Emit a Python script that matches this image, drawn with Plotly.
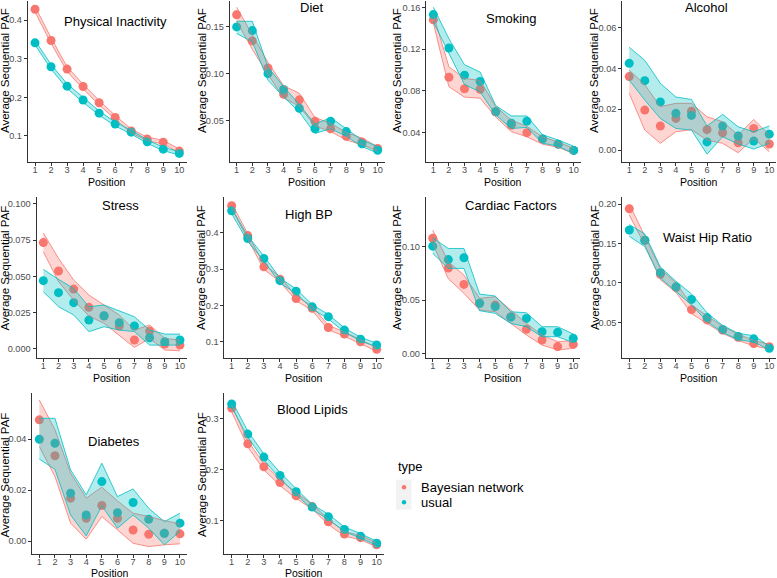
import plotly.graph_objects as go

# ---------------- data ----------------
positions = [1, 2, 3, 4, 5, 6, 7, 8, 9, 10]
panel_names = ["Physical Inactivity", "Diet", "Smoking", "Alcohol", "Stress",
               "High BP", "Cardiac Factors", "Waist Hip Ratio", "Diabetes", "Blood Lipids"]
series_names = ["Bayesian network", "usual"]

# Physical Inactivity
pi_bn = [0.428, 0.347, 0.273, 0.228, 0.186, 0.148, 0.113, 0.092, 0.084, 0.061]
pi_bn_lo = [0.421, 0.340, 0.267, 0.222, 0.180, 0.143, 0.108, 0.088, 0.079, 0.057]
pi_bn_hi = [0.435, 0.354, 0.279, 0.234, 0.192, 0.153, 0.118, 0.097, 0.089, 0.066]
pi_us = [0.341, 0.279, 0.229, 0.193, 0.159, 0.131, 0.110, 0.085, 0.066, 0.055]
pi_us_lo = [0.336, 0.273, 0.223, 0.187, 0.154, 0.126, 0.105, 0.081, 0.062, 0.051]
pi_us_hi = [0.347, 0.285, 0.235, 0.199, 0.165, 0.136, 0.115, 0.090, 0.071, 0.059]

# Diet
di_bn = [0.163, 0.135, 0.106, 0.078, 0.072, 0.049, 0.041, 0.033, 0.027, 0.020]
di_bn_lo = [0.156, 0.126, 0.099, 0.074, 0.065, 0.044, 0.038, 0.029, 0.024, 0.017]
di_bn_hi = [0.171, 0.142, 0.112, 0.087, 0.079, 0.053, 0.047, 0.037, 0.031, 0.022]
di_us = [0.150, 0.146, 0.100, 0.083, 0.063, 0.041, 0.049, 0.038, 0.025, 0.018]
di_us_lo = [0.143, 0.134, 0.093, 0.075, 0.059, 0.036, 0.041, 0.033, 0.022, 0.015]
di_us_hi = [0.156, 0.156, 0.107, 0.086, 0.067, 0.046, 0.053, 0.041, 0.029, 0.022]

# Smoking
sm_bn = [0.148, 0.093, 0.082, 0.0815, 0.060, 0.047, 0.040, 0.034, 0.029, 0.023]
sm_bn_lo = [0.145, 0.084, 0.074, 0.073, 0.055, 0.041, 0.036, 0.029, 0.026, 0.020]
sm_bn_hi = [0.153, 0.103, 0.092, 0.090, 0.065, 0.052, 0.046, 0.036, 0.031, 0.025]
sm_us = [0.153, 0.121, 0.095, 0.089, 0.060, 0.049, 0.051, 0.034, 0.029, 0.023]
sm_us_lo = [0.146, 0.116, 0.086, 0.079, 0.057, 0.044, 0.045, 0.030, 0.027, 0.020]
sm_us_hi = [0.160, 0.130, 0.105, 0.098, 0.066, 0.056, 0.056, 0.038, 0.033, 0.027]

# Alcohol
al_bn = [0.036, 0.0196, 0.0118, 0.0155, 0.019, 0.010, 0.0085, 0.0036, 0.0106, 0.003]
al_bn_lo = [0.0278, 0.0098, 0.0033, 0.009, 0.010, 0.0049, 0.0033, -0.0013, 0.0057, -0.0008]
al_bn_hi = [0.0392, 0.032, 0.0213, 0.0229, 0.0229, 0.0163, 0.0139, 0.0074, 0.015, 0.0074]
al_us = [0.0425, 0.034, 0.0236, 0.018, 0.017, 0.004, 0.0118, 0.0069, 0.0044, 0.0078]
al_us_lo = [0.0343, 0.0245, 0.0155, 0.0106, 0.0098, -0.002, 0.0065, 0.003, 0.0005, 0.0033]
al_us_hi = [0.0504, 0.044, 0.0327, 0.026, 0.0248, 0.0118, 0.0175, 0.0114, 0.009, 0.0118]

# Stress
st_bn = [0.0733, 0.0537, 0.0412, 0.0286, 0.0226, 0.0157, 0.006, 0.0122, 0.0032, 0.0025]
st_bn_lo = [0.067, 0.0463, 0.0336, 0.0226, 0.0175, 0.0094, 0.0009, 0.0071, -0.0009, -0.0014]
st_bn_hi = [0.080, 0.0624, 0.0475, 0.0371, 0.0302, 0.0233, 0.0129, 0.0164, 0.0071, 0.006]
st_us = [0.047, 0.0387, 0.0318, 0.0198, 0.0228, 0.018, 0.0157, 0.0076, 0.0048, 0.006]
st_us_lo = [0.0394, 0.029, 0.0233, 0.0118, 0.0152, 0.0129, 0.0118, 0.0025, 0.0025, 0.0025]
st_us_hi = [0.0548, 0.0479, 0.0417, 0.029, 0.0302, 0.0263, 0.0221, 0.0129, 0.0101, 0.0101]

# High BP
hb_bn = [0.474, 0.392, 0.306, 0.272, 0.219, 0.192, 0.139, 0.121, 0.100, 0.079]
hb_bn_lo = [0.466, 0.384, 0.299, 0.265, 0.213, 0.186, 0.133, 0.115, 0.095, 0.074]
hb_bn_hi = [0.481, 0.399, 0.313, 0.279, 0.225, 0.198, 0.145, 0.127, 0.105, 0.084]
hb_us = [0.460, 0.384, 0.329, 0.268, 0.239, 0.196, 0.169, 0.132, 0.107, 0.091]
hb_us_lo = [0.452, 0.376, 0.322, 0.261, 0.233, 0.190, 0.163, 0.126, 0.102, 0.086]
hb_us_hi = [0.467, 0.391, 0.336, 0.275, 0.245, 0.202, 0.175, 0.138, 0.112, 0.096]

# Cardiac Factors
cf_bn = [0.108, 0.080, 0.0647, 0.0469, 0.0453, 0.0344, 0.0225, 0.0125, 0.0063, 0.0084]
cf_bn_lo = [0.1031, 0.070, 0.0563, 0.0406, 0.039, 0.0281, 0.0172, 0.0078, 0.0031, 0.0047]
cf_bn_hi = [0.1156, 0.086, 0.0734, 0.0516, 0.0531, 0.0406, 0.0281, 0.0172, 0.0109, 0.0119]
cf_us = [0.1006, 0.088, 0.0897, 0.0469, 0.0438, 0.0338, 0.0328, 0.0203, 0.0197, 0.0141]
cf_us_lo = [0.0938, 0.0797, 0.0797, 0.040, 0.0375, 0.0281, 0.025, 0.0156, 0.0156, 0.010]
cf_us_hi = [0.1084, 0.0984, 0.0984, 0.0556, 0.0538, 0.039, 0.0381, 0.025, 0.025, 0.0181]

# Waist Hip Ratio
wh_bn = [0.194, 0.154, 0.111, 0.094, 0.066, 0.053, 0.040, 0.031, 0.023, 0.019]
wh_bn_lo = [0.186, 0.148, 0.104, 0.088, 0.061, 0.048, 0.036, 0.027, 0.020, 0.016]
wh_bn_hi = [0.200, 0.160, 0.118, 0.100, 0.072, 0.058, 0.045, 0.035, 0.027, 0.022]
wh_us = [0.167, 0.154, 0.113, 0.095, 0.079, 0.056, 0.041, 0.032, 0.029, 0.017]
wh_us_lo = [0.159, 0.146, 0.106, 0.089, 0.072, 0.051, 0.037, 0.028, 0.025, 0.015]
wh_us_hi = [0.174, 0.162, 0.120, 0.102, 0.086, 0.062, 0.046, 0.036, 0.033, 0.020]

# Diabetes
db_bn = [0.0476, 0.0335, 0.0169, 0.009, 0.014, 0.009, 0.0044, 0.0027, 0.0031, 0.0029]
db_bn_lo = [0.0371, 0.0254, 0.0071, 0.0008, 0.0097, 0.0044, -0.0008, -0.0021, -0.0014, -0.001]
db_bn_hi = [0.0554, 0.0437, 0.0267, 0.0169, 0.0212, 0.0158, 0.011, 0.0097, 0.0081, 0.0068]
db_us = [0.040, 0.0384, 0.0188, 0.0103, 0.0234, 0.0112, 0.0152, 0.0086, 0.0031, 0.0071]
db_us_lo = [0.0322, 0.0282, 0.0103, 0.0021, 0.0139, 0.0051, 0.0103, 0.0051, -0.0014, 0.0038]
db_us_hi = [0.0482, 0.0482, 0.028, 0.0182, 0.0306, 0.0175, 0.0205, 0.0129, 0.0077, 0.011]

# Blood Lipids
bl_bn = [0.320, 0.250, 0.205, 0.174, 0.148, 0.127, 0.097, 0.073, 0.066, 0.052]
bl_bn_lo = [0.313, 0.244, 0.199, 0.168, 0.143, 0.122, 0.092, 0.069, 0.062, 0.048]
bl_bn_hi = [0.326, 0.256, 0.211, 0.180, 0.154, 0.132, 0.102, 0.078, 0.070, 0.056]
bl_us = [0.328, 0.269, 0.224, 0.188, 0.156, 0.126, 0.107, 0.082, 0.069, 0.055]
bl_us_lo = [0.322, 0.263, 0.218, 0.182, 0.151, 0.121, 0.102, 0.078, 0.065, 0.051]
bl_us_hi = [0.335, 0.275, 0.230, 0.194, 0.162, 0.131, 0.112, 0.087, 0.074, 0.059]

# y-axis ticks per panel
yticks = [
    [0.1, 0.2, 0.3, 0.4],
    [0.05, 0.10, 0.15],
    [0.04, 0.08, 0.12, 0.16],
    [0.00, 0.02, 0.04, 0.06],
    [0.000, 0.025, 0.050, 0.075, 0.100],
    [0.1, 0.2, 0.3, 0.4],
    [0.00, 0.05, 0.10],
    [0.05, 0.10, 0.15, 0.20],
    [0.00, 0.02, 0.04],
    [0.1, 0.2, 0.3],
]
ytick_labels = [
    ["0.1", "0.2", "0.3", "0.4"],
    ["0.05", "0.10", "0.15"],
    ["0.04", "0.08", "0.12", "0.16"],
    ["0.00", "0.02", "0.04", "0.06"],
    ["0.000", "0.025", "0.050", "0.075", "0.100"],
    ["0.1", "0.2", "0.3", "0.4"],
    ["0.00", "0.05", "0.10"],
    ["0.05", "0.10", "0.15", "0.20"],
    ["0.00", "0.02", "0.04"],
    ["0.1", "0.2", "0.3"],
]

series_data = [
    (pi_bn, pi_bn_lo, pi_bn_hi, pi_us, pi_us_lo, pi_us_hi),
    (di_bn, di_bn_lo, di_bn_hi, di_us, di_us_lo, di_us_hi),
    (sm_bn, sm_bn_lo, sm_bn_hi, sm_us, sm_us_lo, sm_us_hi),
    (al_bn, al_bn_lo, al_bn_hi, al_us, al_us_lo, al_us_hi),
    (st_bn, st_bn_lo, st_bn_hi, st_us, st_us_lo, st_us_hi),
    (hb_bn, hb_bn_lo, hb_bn_hi, hb_us, hb_us_lo, hb_us_hi),
    (cf_bn, cf_bn_lo, cf_bn_hi, cf_us, cf_us_lo, cf_us_hi),
    (wh_bn, wh_bn_lo, wh_bn_hi, wh_us, wh_us_lo, wh_us_hi),
    (db_bn, db_bn_lo, db_bn_hi, db_us, db_us_lo, db_us_hi),
    (bl_bn, bl_bn_lo, bl_bn_hi, bl_us, bl_us_lo, bl_us_hi),
]

# ---------------- layout (pixel geometry) ----------------
W, H = 777, 578
RED = "#F8766D"
TEAL = "#00BFC4"
RED_FILL = "rgba(248,118,109,0.30)"
TEAL_FILL = "rgba(0,191,196,0.30)"
FONT = "Liberation Sans, Arial, Helvetica, sans-serif"

# panel boxes: left, right, top, bottom (px)
boxes = [
    (27.8, 186.5, 0.7, 161.7), (229.6, 384.7, 0.7, 161.7),
    (426.3, 580.7, 0.7, 161.7), (622.2, 776.3, 0.7, 161.7),
    (36.5, 186.8, 196.7, 357.7), (224.4, 383.9, 196.7, 357.7),
    (425.7, 580.3, 196.7, 357.7), (622.3, 776.3, 196.7, 357.7),
    (32.3, 187.0, 393.3, 554.0), (224.4, 383.9, 393.3, 554.0),
]
yranges = [
    (0.0335, 0.450), (0.0058, 0.178), (0.0122, 0.1663), (-0.0057, 0.0732),
    (-0.0062, 0.105), (0.056, 0.499), (-0.0041, 0.147), (0.0051, 0.2093),
    (-0.005, 0.058), (0.034, 0.349),
]
# panel title centres (data coords)
title_pos = [
    (6.0, 0.397), (5.8, 0.171), (6.0, 0.149), (5.95, 0.0697), (6.05, 0.099),
    (5.8, 0.449), (6.0, 0.139), (6.05, 0.158), (5.75, 0.0393), (6.0, 0.318),
]
ytitle_x = [5, 202, 397, 594, 4.5, 201, 397, 595, 4.5, 202]
ytitle_y = [71, 71, 71, 71, 268, 268, 268, 268, 475, 475]
xtitle_y = [182, 182, 182, 182, 377.5, 377.5, 377.5, 377.5, 572.5, 572.5]

fig = go.Figure()
layout = dict(
    width=W, height=H, margin=dict(l=0, r=0, t=0, b=0),
    paper_bgcolor="white", plot_bgcolor="white",
    font=dict(family=FONT, color="black"),
    annotations=[], shapes=[], showlegend=False,
)

for i, name in enumerate(panel_names):
    s = "" if i == 0 else str(i + 1)
    xa, ya = "x" + s, "y" + s
    bn, bn_lo, bn_hi, us, us_lo, us_hi = series_data[i]
    # points (drawn first, ribbons on top like the original)
    fig.add_trace(go.Scatter(x=positions, y=bn, mode="markers", xaxis=xa, yaxis=ya,
                             marker=dict(color=RED, size=9, line=dict(width=0)),
                             name=series_names[0]))
    fig.add_trace(go.Scatter(x=positions, y=us, mode="markers", xaxis=xa, yaxis=ya,
                             marker=dict(color=TEAL, size=9, line=dict(width=0)),
                             name=series_names[1]))
    # ribbons
    for lo, hi, col, fcol, nm in ((bn_lo, bn_hi, RED, RED_FILL, series_names[0]),
                                  (us_lo, us_hi, TEAL, TEAL_FILL, series_names[1])):
        fig.add_trace(go.Scatter(x=positions, y=lo, mode="lines", xaxis=xa, yaxis=ya,
                                 line=dict(color=col, width=0.8),
                                 name=nm, hoverinfo="skip"))
        fig.add_trace(go.Scatter(x=positions, y=hi, mode="lines", xaxis=xa, yaxis=ya,
                                 line=dict(color=col, width=0.8), fill="tonexty",
                                 fillcolor=fcol, name=nm, hoverinfo="skip"))

    l, r, t, b = boxes[i]
    layout["xaxis" + s] = dict(
        domain=[l / W, r / W], anchor=ya, range=[0.55, 10.45],
        tickmode="array", tickvals=positions, ticktext=[str(p) for p in positions],
        ticks="outside", ticklen=3, tickwidth=1, tickcolor="#333333",
        ticklabelstandoff=-4,
        showline=True, linecolor="#333333", linewidth=1,
        showgrid=False, zeroline=False,
        tickfont=dict(size=9.2, color="#4D4D4D", family=FONT),
    )
    layout["yaxis" + s] = dict(
        domain=[1 - b / H, 1 - t / H], anchor=xa, range=list(yranges[i]),
        tickmode="array", tickvals=yticks[i], ticktext=ytick_labels[i],
        ticks="outside", ticklen=3, tickwidth=1, tickcolor="#333333",
        showline=True, linecolor="#333333", linewidth=1,
        showgrid=False, zeroline=False,
        tickfont=dict(size=9.2, color="#4D4D4D", family=FONT),
    )
    # panel title (inside the panel)
    tx, ty = title_pos[i]
    layout["annotations"].append(dict(
        x=tx, y=ty, xref=xa, yref=ya, text=name, showarrow=False,
        font=dict(size=13, color="black", family=FONT),
        xanchor="center", yanchor="middle"))
    # axis titles
    layout["annotations"].append(dict(
        x=ytitle_x[i] / W, y=1 - ytitle_y[i] / H, xref="paper", yref="paper",
        text="Average Sequential PAF", textangle=-90, showarrow=False,
        font=dict(size=11.5, color="black", family=FONT),
        xanchor="center", yanchor="middle"))
    layout["annotations"].append(dict(
        x=((l + r) / 2) / W, y=1 - xtitle_y[i] / H, xref="paper", yref="paper",
        text="Position", showarrow=False,
        font=dict(size=10.5, color="black", family=FONT),
        xanchor="center", yanchor="middle"))

# ---------------- legend (drawn as a ggplot-style key) ----------------
legend_title_xy = (396, 466.7)
legend_key_rows = [487.3, 502.3]
legend_colors = [RED, TEAL]
layout["annotations"].append(dict(
    x=legend_title_xy[0] / W, y=1 - legend_title_xy[1] / H, xref="paper", yref="paper",
    text="type", showarrow=False, xanchor="left", yanchor="middle",
    font=dict(size=13, color="black", family=FONT)))
for ky, col, nm in zip(legend_key_rows, legend_colors, series_names):
    layout["shapes"].append(dict(
        type="rect", xref="paper", yref="paper",
        x0=396 / W, x1=411.5 / W, y0=1 - (ky - 7.6) / H, y1=1 - (ky + 7.4) / H,
        fillcolor="#F2F2F2", line=dict(width=0), layer="below"))
    layout["shapes"].append(dict(
        type="circle", xref="paper", yref="paper",
        x0=(404 - 2.2) / W, x1=(404 + 2.2) / W, y0=1 - (ky - 2.2) / H, y1=1 - (ky + 2.2) / H,
        fillcolor=col, line=dict(width=0)))
    layout["annotations"].append(dict(
        x=419 / W, y=1 - ky / H, xref="paper", yref="paper",
        text=nm, showarrow=False, xanchor="left", yanchor="middle",
        font=dict(size=13, color="black", family=FONT)))

fig.update_layout(**layout)
fig.write_html(
    "out.html",
    config={"displayModeBar": False},
    post_script="document.body.style.margin='0';document.body.style.padding='0';"
                "document.body.style.overflow='hidden';",
)
